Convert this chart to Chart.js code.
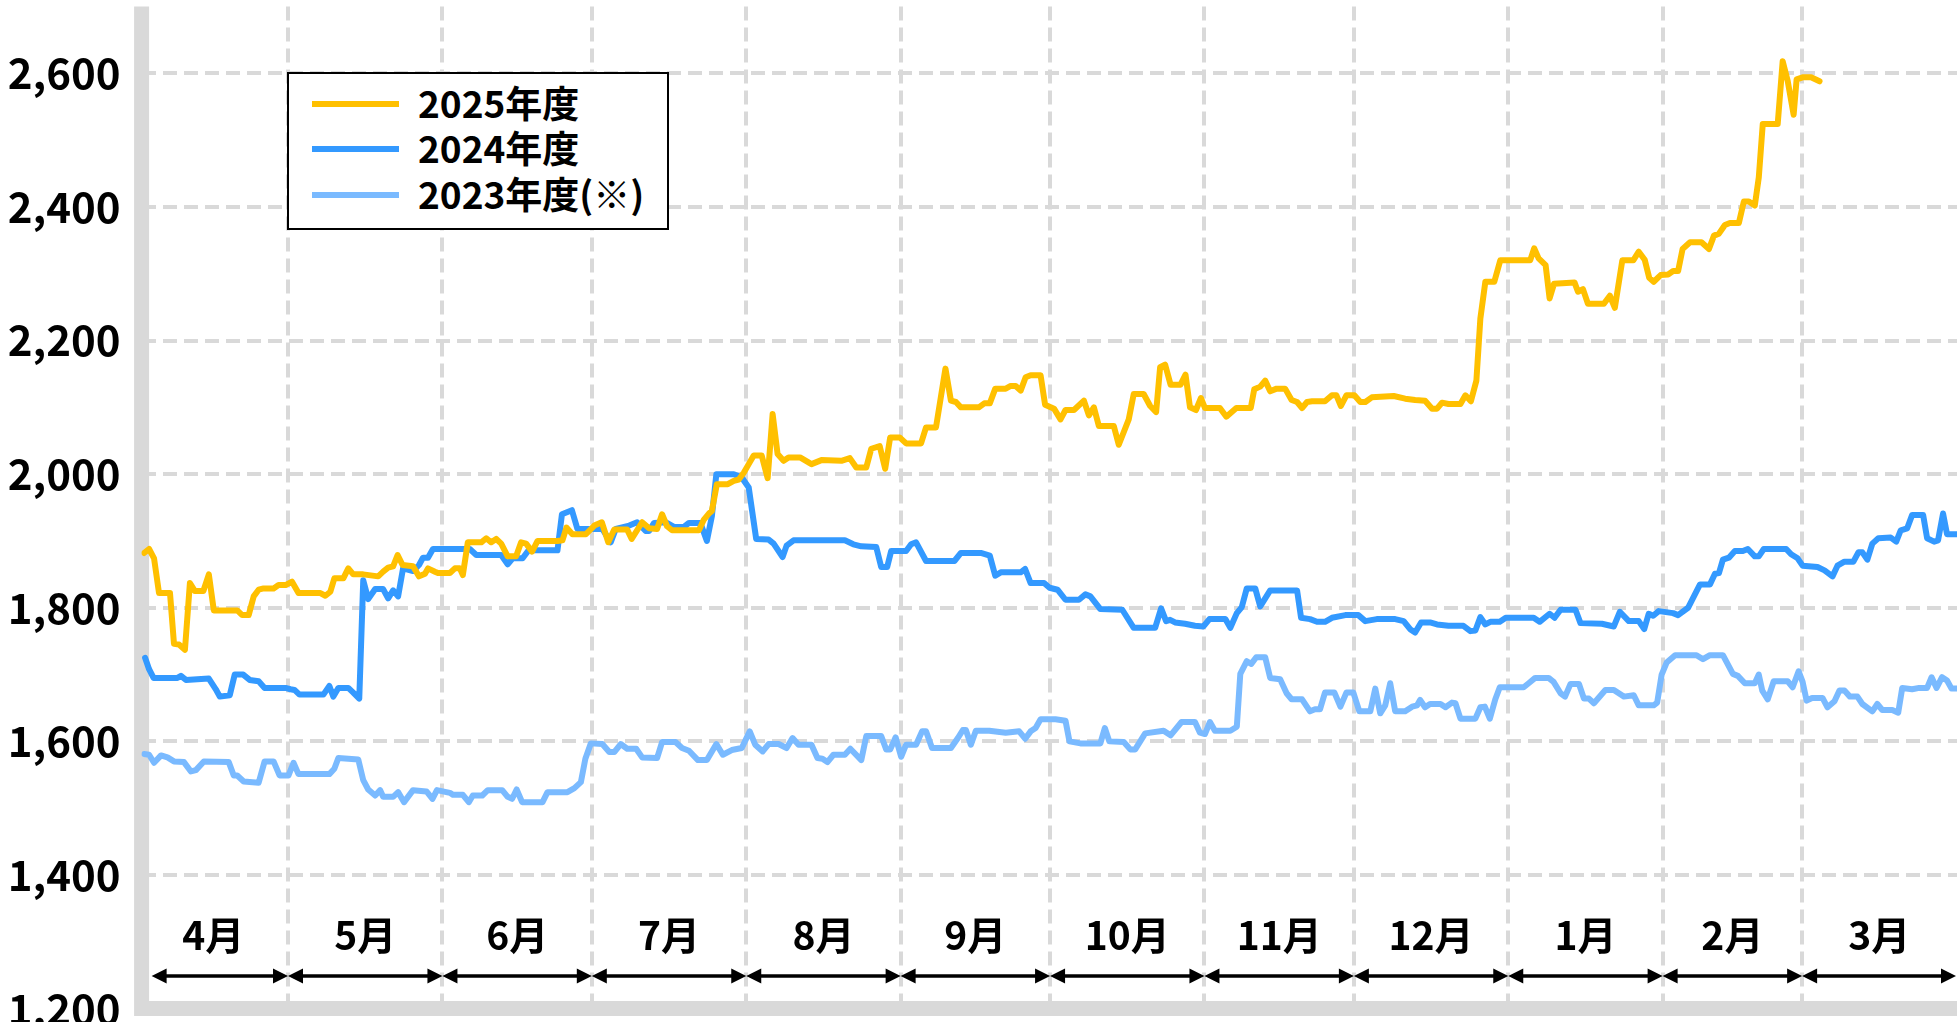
<!DOCTYPE html>
<html>
<head>
<meta charset="utf-8">
<script src="https://cdn.jsdelivr.net/npm/chart.js@4.4.1/dist/chart.umd.min.js"></script>
<style>
  html, body { margin: 0; padding: 0; background: #ffffff; }
  #wrap { position: relative; width: 1957px; height: 1022px; overflow: hidden; }
  #chart { position: absolute; left: 0; top: 0; }
  #legend {
    position: absolute; left: 287px; top: 72px; width: 378px; height: 154px;
    border: 2px solid #000; background: #fff;
    font-family: "Noto Sans CJK JP", sans-serif; font-weight: bold; font-size: 37px; color: #000;
  }
  .row { position: absolute; left: 0; width: 100%; height: 44px; }
  .swatch { position: absolute; left: 23px; top: 19px; width: 87px; height: 6px; }
  .lbl { position: absolute; left: 129px; top: -2px; height: 44px; line-height: 44px; white-space: nowrap; }
</style>
</head>
<body>
<div id="wrap">
  <canvas id="chart" width="1957" height="1022"></canvas>
  <div id="legend"></div>
</div>
<script>
// ---- data (x = days since April 1 of the fiscal year) ----
const monthLabels = ['4月','5月','6月','7月','8月','9月','10月','11月','12月','1月','2月','3月'];
const monthStarts = [0,30,61,91,122,153,183,214,244,275,306,334,365];
const yTicks = [1200,1400,1600,1800,2000,2200,2400,2600];
const seriesNames = ['2025年度','2024年度','2023年度(※)'];
const seriesColors = ['#FFC000','#3399FF','#7ABAFF'];

const s2025 = [[1.1,1882],[2.1,1888],[3.1,1874],[4.1,1822],[6.3,1822],[7.1,1746],[8.1,1745],[9.3,1737],[10.3,1837],[11.3,1825],[13,1825],[14.1,1850],[15.1,1796],[19.8,1796],[20.8,1789],[22.1,1789],[23.1,1817],[24.1,1827],[25.1,1829],[27.1,1829],[28.1,1834],[29.5,1834],[30.8,1839],[32.1,1822],[36.5,1822],[37.5,1818],[38.5,1824],[39.3,1844],[41.1,1844],[42.1,1859],[43.1,1850],[45.1,1850],[48.1,1847],[49.1,1854],[50.1,1860],[51.1,1862],[52,1879],[53,1864],[55.1,1862],[56.3,1847],[57.5,1851],[58.1,1859],[59.5,1854],[60.1,1852],[62.5,1852],[63.5,1859],[64.5,1859],[65.1,1849],[66.1,1898],[68.8,1898],[69.8,1904],[70.8,1898],[71.8,1903],[72.8,1896],[74.1,1877],[75.8,1877],[76.8,1898],[77.8,1896],[79,1884],[80.1,1900],[84.1,1900],[85.1,1901],[85.9,1920],[87.1,1910],[89.8,1910],[91.5,1923],[93,1928],[94.3,1898],[95.5,1917],[98.1,1917],[99,1903],[101.1,1928],[102.5,1919],[104.1,1918],[105.1,1940],[106.1,1922],[107.1,1916],[112.5,1916],[113.5,1932],[114.5,1941],[115.1,1945],[116.1,1985],[118.3,1985],[119.5,1990],[120.5,1992],[121.5,2002],[122.5,2015],[123.5,2028],[125.1,2028],[126.3,1994],[127.3,2090],[128.3,2030],[129.5,2020],[130.5,2025],[132.8,2025],[135.1,2015],[137.1,2021],[141.1,2020],[142.8,2024],[144.1,2010],[146.1,2010],[147.1,2038],[148.8,2042],[149.9,2008],[150.9,2055],[152.8,2055],[154.1,2046],[157.1,2046],[158.1,2070],[160.1,2070],[162,2158],[163.1,2110],[164.1,2108],[165.1,2100],[168.7,2100],[169.8,2106],[170.9,2106],[172,2128],[174.1,2128],[175.1,2132],[176.1,2132],[177.1,2125],[178.1,2145],[179.1,2148],[181.1,2148],[182,2104],[183.8,2098],[185.1,2082],[186.1,2096],[187.8,2096],[189.8,2110],[190.8,2088],[191.8,2100],[192.8,2072],[195.8,2072],[196.8,2044],[198.8,2082],[199.8,2120],[201.8,2120],[203.1,2102],[204.3,2093],[205.1,2160],[206.1,2164],[207.2,2134],[209.2,2134],[210.2,2149],[211.1,2100],[212.3,2096],[213.3,2114],[214.1,2099],[217.1,2099],[218.4,2086],[220.4,2099],[223.3,2099],[224,2127],[225.2,2131],[226.2,2140],[227.2,2124],[228.5,2128],[230.2,2128],[231.5,2111],[232.6,2108],[233.6,2099],[234.6,2108],[235.6,2109],[238.2,2109],[239.6,2118],[240.5,2118],[241.4,2102],[242.5,2118],[244.1,2118],[245.3,2108],[246.3,2108],[247.6,2115],[252,2117],[254.3,2113],[256.3,2111],[258.3,2110],[259.7,2098],[260.7,2098],[261.7,2107],[263,2105],[265.4,2105],[266.4,2118],[267.5,2109],[268.6,2140],[269.4,2233],[270.4,2288],[272.2,2288],[273.4,2320],[279.4,2320],[280.2,2338],[281.1,2323],[282.5,2313],[283.3,2263],[284.2,2285],[288.3,2287],[289,2273],[290,2277],[291,2255],[294.2,2255],[295.4,2267],[296.4,2249],[297.9,2320],[300.1,2320],[301.2,2333],[302.4,2321],[303.3,2294],[304.2,2288],[305.6,2298],[307.1,2299],[308.1,2304],[309.1,2304],[310,2337],[311.5,2347],[313.8,2347],[315.3,2337],[316.3,2357],[317.3,2360],[318.5,2373],[319.5,2376],[321.3,2376],[322.3,2408],[323.3,2408],[324.5,2402],[325.3,2444],[326.1,2524],[329.1,2524],[330.1,2618],[331.1,2589],[332.3,2538],[332.9,2591],[334.1,2594],[335.8,2594],[337.5,2588]];

const s2024 = [[1.3,1725],[2.1,1708],[3,1695],[7.8,1695],[8.5,1698],[9.5,1692],[14.1,1694],[15.5,1678],[16.3,1667],[18.3,1669],[19.3,1700],[21,1700],[22.3,1692],[24.1,1690],[25.3,1680],[29.5,1680],[30.5,1678],[31.3,1677],[32.3,1670],[37.1,1670],[38.3,1683],[39.1,1667],[40.1,1680],[42.1,1680],[43.1,1673],[44.3,1664],[45.1,1841],[46.1,1813],[47.5,1828],[49.1,1828],[50.1,1814],[51.1,1826],[52.1,1817],[53.1,1859],[55.1,1855],[56.3,1864],[57.1,1875],[58.1,1875],[59.1,1888],[66.5,1888],[67.8,1879],[72.8,1879],[74.1,1865],[75.1,1874],[77.1,1874],[78.3,1886],[84.1,1886],[85,1940],[87,1946],[88.1,1918],[93.1,1918],[94.8,1898],[95.8,1918],[98.5,1923],[100.1,1928],[101.8,1915],[102.5,1915],[103.5,1927],[105.8,1928],[107.5,1921],[109.5,1921],[110.5,1927],[112.8,1927],[114.1,1900],[115.1,1937],[116,2000],[119.5,2000],[121.1,1995],[122.5,1980],[124,1903],[126.5,1902],[127.5,1896],[129.3,1876],[130.1,1893],[131.5,1901],[141.8,1901],[143.5,1895],[145.1,1892],[148.1,1891],[149.1,1861],[150.3,1861],[151.1,1885],[154.1,1885],[155.1,1895],[156.1,1898],[158.1,1870],[163.8,1870],[165.1,1882],[169.1,1882],[170.9,1878],[172,1848],[173.1,1853],[177.1,1853],[178,1858],[179.1,1837],[181.8,1837],[182.9,1830],[184.5,1827],[186.1,1812],[188.8,1812],[190.1,1820],[191.1,1817],[193.1,1798],[197.5,1797],[199.8,1770],[204.1,1770],[205.3,1799],[206.3,1780],[207.1,1782],[208.1,1778],[210.1,1776],[212.1,1773],[213.8,1772],[215,1783],[218.2,1783],[219.2,1770],[220.5,1792],[221.5,1801],[222.5,1829],[224.2,1829],[225.2,1802],[227.2,1826],[232.6,1826],[233.4,1785],[235.2,1783],[236.6,1779],[238.2,1779],[239.6,1785],[242.3,1789],[244.9,1789],[246.3,1780],[248.6,1783],[252.3,1783],[254,1780],[255.3,1768],[256.3,1763],[257.5,1778],[259.3,1778],[260.7,1775],[263,1773],[266,1773],[267.4,1765],[268.4,1766],[269.4,1786],[270.4,1775],[271.4,1779],[273.3,1779],[274.5,1785],[280.1,1785],[281.3,1779],[283.3,1791],[284.3,1785],[285.5,1797],[288.5,1797],[289.5,1777],[293.8,1776],[296.2,1772],[297.4,1794],[299.2,1780],[301.2,1780],[302.3,1768],[303.2,1791],[304.1,1788],[305.2,1795],[308.1,1792],[309.1,1789],[311.1,1800],[313.5,1835],[315.5,1835],[316.5,1851],[317.3,1852],[318.1,1872],[319.3,1875],[320.5,1885],[322.1,1885],[323.1,1888],[324.5,1877],[325.3,1877],[326.3,1888],[330.8,1888],[331.8,1880],[333.1,1874],[334.1,1863],[337.1,1861],[338.5,1856],[340.1,1847],[341.1,1863],[342.5,1869],[344.3,1869],[345.3,1883],[346.1,1883],[347.1,1872],[348.1,1896],[349.3,1904],[351.8,1905],[352.9,1899],[353.8,1916],[355.1,1919],[356.1,1939],[358.3,1939],[359.1,1904],[360.5,1899],[361.3,1901],[362.3,1941],[363.1,1910],[365,1910]];

const s2023 = [[1.1,1581],[2.1,1580],[3.1,1568],[4.5,1579],[5.8,1576],[7.1,1570],[9.1,1569],[10.5,1555],[11.5,1557],[13.1,1570],[18.1,1569],[19.1,1549],[19.8,1549],[21.1,1540],[24.1,1538],[25.3,1570],[27.1,1570],[28.3,1549],[30.1,1549],[31.1,1568],[32.1,1551],[38.3,1551],[39.3,1559],[40.1,1575],[44.1,1573],[45.1,1542],[46.1,1528],[47.5,1519],[48.5,1527],[49.1,1517],[51.1,1517],[52.1,1524],[53.3,1509],[55.1,1527],[57.8,1525],[59,1514],[59.9,1527],[62.5,1523],[63.1,1520],[65.1,1520],[66.3,1509],[67.1,1519],[69,1519],[70.1,1527],[73,1527],[74.1,1517],[75,1514],[75.9,1528],[77,1509],[81.1,1509],[82.1,1524],[86.1,1524],[87.5,1530],[88.8,1539],[89.7,1574],[90.8,1597],[93.1,1596],[94.5,1584],[95.5,1584],[96.8,1596],[98.1,1589],[99.9,1589],[101.1,1576],[104.1,1575],[105.1,1599],[107.8,1599],[109.1,1590],[110.5,1586],[112.3,1572],[114.1,1572],[116,1596],[117.3,1580],[119.1,1587],[121.1,1590],[122.7,1615],[123.8,1595],[125.3,1585],[126.5,1596],[128.5,1596],[130.1,1590],[131.3,1605],[132.5,1595],[135.1,1595],[136.3,1575],[137.3,1574],[138.3,1569],[139.5,1580],[141.8,1580],[142.9,1589],[145.1,1572],[146.1,1608],[149.1,1608],[150.1,1588],[150.9,1588],[152,1606],[153.1,1577],[154.1,1595],[156.1,1595],[157.3,1615],[158.1,1615],[159.3,1590],[163.1,1590],[164.5,1605],[165.5,1617],[166.1,1617],[167.1,1595],[168.1,1616],[170.8,1616],[174.1,1613],[176.8,1615],[178,1604],[179.1,1615],[180.1,1620],[181.1,1633],[184.1,1633],[186.1,1631],[186.9,1600],[189.1,1597],[193.1,1597],[194,1620],[194.9,1600],[197.8,1599],[199.1,1588],[200.1,1588],[202.1,1612],[205.8,1616],[207.2,1609],[209.4,1629],[212.1,1629],[213.1,1613],[214.1,1611],[215.1,1629],[216.1,1616],[219.2,1616],[220.5,1622],[221.2,1701],[222.5,1720],[223.4,1716],[224.4,1726],[226.2,1726],[227.2,1695],[229.2,1693],[230.5,1672],[231.5,1663],[233.6,1663],[235.2,1645],[236.2,1648],[237.2,1648],[238.2,1673],[240.1,1673],[241.3,1652],[242.5,1673],[243.9,1673],[245.1,1645],[247.3,1645],[248.3,1679],[249.3,1642],[250.3,1654],[251.3,1687],[252.3,1645],[254.3,1645],[255.7,1652],[256.7,1654],[257.3,1662],[258.3,1651],[259.3,1656],[261.4,1656],[262.4,1651],[263.7,1658],[264.4,1657],[265.4,1634],[268.4,1634],[269.4,1651],[270.3,1652],[271.3,1634],[272.4,1663],[273.3,1681],[278.1,1681],[279.1,1687],[280.4,1695],[283.1,1695],[284.1,1689],[285.5,1672],[286.4,1667],[287.5,1686],[289.2,1686],[290.2,1664],[291.2,1664],[292.2,1657],[294.5,1677],[296.2,1677],[298.2,1667],[300.2,1669],[301.2,1654],[304.2,1654],[304.9,1658],[305.8,1700],[306.8,1718],[308.5,1729],[312.8,1729],[314.1,1723],[315.5,1729],[318.1,1729],[320.1,1701],[321.1,1698],[322.5,1687],[324.5,1687],[325.3,1700],[326,1676],[327.1,1663],[328.3,1690],[331.1,1690],[332.1,1681],[333.3,1705],[334.1,1689],[334.9,1661],[336,1665],[338.1,1665],[339.1,1651],[340.5,1660],[341.5,1676],[342.5,1676],[343.6,1667],[345.1,1667],[346.1,1656],[348.1,1645],[349.1,1656],[350.1,1647],[352.1,1647],[353.3,1643],[354.1,1680],[356.1,1678],[357.5,1680],[359.1,1680],[360,1696],[361,1680],[362.1,1696],[363.1,1691],[364,1679],[365,1679]];

const seriesData = [s2025, s2024, s2023];

// ---- chart ----
const FONT = '"Noto Sans CJK JP", "Noto Sans", sans-serif';

const decor = {
  id: 'decor',
  beforeDatasetsDraw(chart) {
    const {ctx, chartArea: a} = chart;
    ctx.save();
    ctx.strokeStyle = '#D9D9D9';
    ctx.lineWidth = 15;
    ctx.beginPath();
    ctx.moveTo(a.left, a.top);
    ctx.lineTo(a.left, a.bottom + 7.5);
    ctx.moveTo(a.left - 7.5, a.bottom);
    ctx.lineTo(a.right, a.bottom);
    ctx.stroke();
    ctx.restore();
  },
  afterDatasetsDraw(chart) {
    const {ctx, chartArea: a, scales: {x}} = chart;
    ctx.save();
    ctx.fillStyle = '#000';
    ctx.strokeStyle = '#000';
    ctx.font = 'bold 39px ' + FONT;
    ctx.textAlign = 'center';
    ctx.textBaseline = 'middle';
    const yLab = a.bottom - 73.6;
    const yArr = a.bottom - 32.6;
    const head = 15, half = 7.5;
    for (let i = 0; i < monthLabels.length; i++) {
      const p0 = x.getPixelForValue(monthStarts[i]);
      const p1 = x.getPixelForValue(monthStarts[i + 1]);
      ctx.fillText(monthLabels[i], (p0 + p1) / 2, yLab);
      const l = i === 0 ? a.left + 10 : p0;
      const r = Math.min(p1, a.right - 1);
      ctx.lineWidth = 3.5;
      ctx.beginPath();
      ctx.moveTo(l + head - 1, yArr);
      ctx.lineTo(r - head + 1, yArr);
      ctx.stroke();
      ctx.beginPath();
      ctx.moveTo(l, yArr); ctx.lineTo(l + head, yArr - half); ctx.lineTo(l + head, yArr + half); ctx.closePath();
      ctx.fill();
      ctx.beginPath();
      ctx.moveTo(r, yArr); ctx.lineTo(r - head, yArr - half); ctx.lineTo(r - head, yArr + half); ctx.closePath();
      ctx.fill();
    }
    ctx.restore();
  }
};

const chart = new Chart(document.getElementById('chart'), {
  type: 'line',
  data: {
    datasets: seriesNames.map((name, i) => ({
      label: name,
      data: seriesData[i].map(p => ({x: p[0], y: p[1]})),
      borderColor: seriesColors[i],
      backgroundColor: seriesColors[i],
      borderWidth: 6,
      pointRadius: 0,
      tension: 0,
      borderJoinStyle: 'round',
      borderCapStyle: 'round',
      fill: false
    }))
  },
  options: {
    responsive: false,
    animation: false,
    devicePixelRatio: 1,
    layout: { autoPadding: false, padding: { top: 6.5, left: 0, right: 0, bottom: 0 } },
    plugins: { legend: { display: false }, tooltip: { enabled: false } },
    scales: {
      x: {
        type: 'linear',
        min: 0.6,
        max: 365.1,
        afterBuildTicks: s => { s.ticks = monthStarts.slice(1, 12).map(v => ({value: v})); },
        afterFit: s => { s.height = 13.4; s.paddingLeft = 0; s.paddingRight = 0; s.paddingTop = 0; s.paddingBottom = 0; },
        ticks: { display: false },
        grid: { color: '#D9D9D9', lineWidth: 4, drawTicks: false },
        border: { display: false, dash: [14, 7] }
      },
      y: {
        min: 1200,
        max: 2700,
        afterBuildTicks: s => { s.ticks = yTicks.map(v => ({value: v})); },
        afterFit: s => { s.width = 141.6; s.paddingTop = 0; s.paddingBottom = 0; s.paddingLeft = 0; s.paddingRight = 0; },
        ticks: {
          color: '#000',
          padding: 21,
          font: { family: FONT, size: 42, weight: 'bold' },
          callback: v => Number(v).toLocaleString('en-US')
        },
        grid: { color: '#D9D9D9', lineWidth: 4, drawTicks: false },
        border: { display: false, dash: [14, 7] }
      }
    }
  },
  plugins: [decor]
});

// ---- legend (HTML, built from the chart's datasets) ----
const legendEl = document.getElementById('legend');
const rowCenters = [30, 75.3, 120.6];
chart.data.datasets.forEach((ds, i) => {
  const row = document.createElement('div');
  row.className = 'row';
  row.style.top = (rowCenters[i] - 22) + 'px';
  const sw = document.createElement('div');
  sw.className = 'swatch';
  sw.style.background = ds.borderColor;
  const lb = document.createElement('div');
  lb.className = 'lbl';
  lb.textContent = ds.label;
  row.appendChild(sw);
  row.appendChild(lb);
  legendEl.appendChild(row);
});
</script>
</body>
</html>
